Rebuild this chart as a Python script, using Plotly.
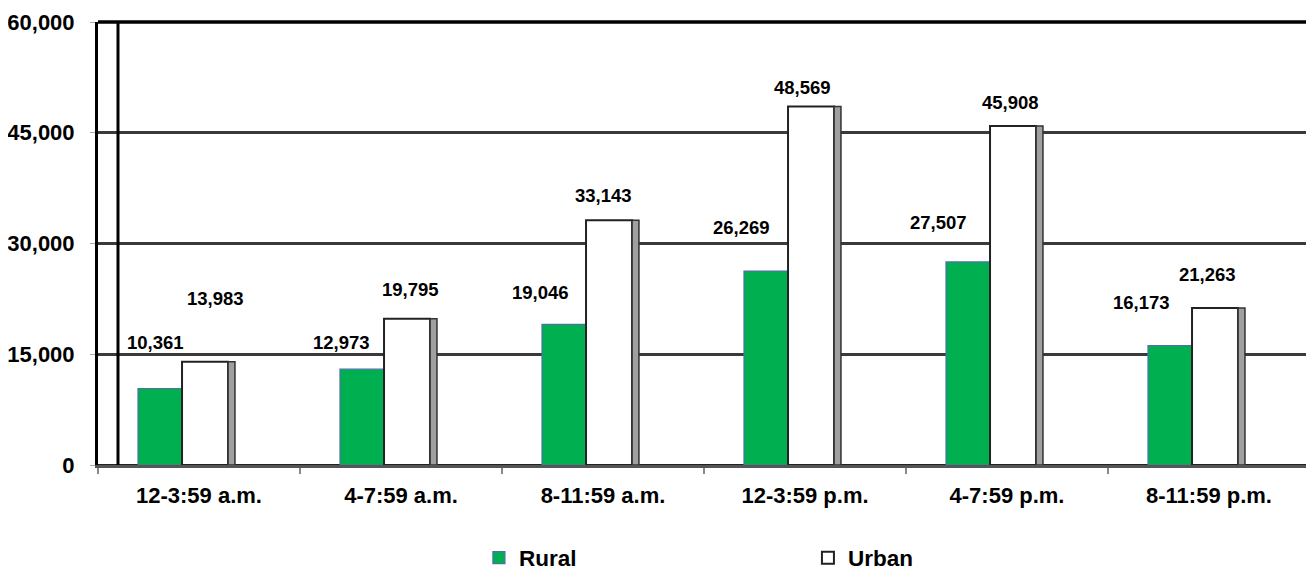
import plotly.graph_objects as go

categories = ["12-3:59 a.m.", "4-7:59 a.m.", "8-11:59 a.m.", "12-3:59 p.m.", "4-7:59 p.m.", "8-11:59 p.m."]
rural = [10361, 12973, 19046, 26269, 27507, 16173]
urban = [13983, 19795, 33143, 48569, 45908, 21263]
y_ticks = [0, 15000, 30000, 45000, 60000]

# label pixel offsets from the category centre / bar top (style)
rural_label_dx = [-44, -60, -63, -64, -69, -68]
rural_label_dy = [46, 27, 32, 44, 39, 43]
urban_label_dx = [16, 9, 0, -3, 3, -2]
urban_label_dy = [63, 29, 25, 19, 24, 34]

FONT = "Liberation Sans, Arial, sans-serif"
GREEN = "#00B050"

fig = go.Figure()
fig.add_trace(go.Bar(
    x=categories, y=rural, name="Rural",
    marker=dict(color=GREEN, line=dict(color="#4F6FA8", width=1.2)),
    width=0.218, offset=-0.302,
))
fig.add_trace(go.Bar(
    x=categories, y=urban, name="Urban",
    marker=dict(color="white", line=dict(color="#222222", width=2)),
    width=0.228, offset=-0.084,
))
# depth side of urban bars
fig.add_trace(go.Bar(
    x=categories, y=urban, name="Urban depth", showlegend=False,
    marker=dict(color="#A0A0A0", line=dict(color="#333333", width=1.5)),
    width=0.034, offset=0.144, hoverinfo="skip",
))

annotations = []
for i, c in enumerate(categories):
    annotations.append(dict(
        x=c, y=rural[i], xref="x", yref="y",
        text=f"{rural[i]:,}", showarrow=False, yanchor="middle", xanchor="center",
        xshift=rural_label_dx[i], yshift=rural_label_dy[i],
        font=dict(family=FONT, size=18.5, color="black", weight="bold"),
    ))
    annotations.append(dict(
        x=c, y=urban[i], xref="x", yref="y",
        text=f"{urban[i]:,}", showarrow=False, yanchor="middle", xanchor="center",
        xshift=urban_label_dx[i], yshift=urban_label_dy[i],
        font=dict(family=FONT, size=18.5, color="black", weight="bold"),
    ))

fig.update_layout(
    width=1314, height=574,
    margin=dict(l=90, r=12, t=14, b=117, autoexpand=False),
    plot_bgcolor="white", paper_bgcolor="white",
    barmode="overlay",
    annotations=annotations,
    font=dict(family=FONT, size=22, color="black", weight="bold"),
    legend=dict(
        orientation="h", x=0.3143, xanchor="left", y=-0.21, yanchor="middle",
        entrywidth=284, entrywidthmode="pixels", itemwidth=30,
        font=dict(family=FONT, size=22.5, color="black", weight="bold"),
        itemclick=False, itemdoubleclick=False,
    ),
    shapes=[dict(
        type="line", xref="paper", yref="paper",
        x0=0.0165, x1=0.0165, y0=0, y1=1,
        line=dict(color="black", width=3), layer="above",
    )],
)
fig.update_xaxes(
    type="category",
    range=[-0.5, 5.5],
    showline=True, linecolor="#555555", linewidth=3, mirror=False,
    ticks="outside", tickson="boundaries", ticklen=6, tickcolor="#888888", tickwidth=2,
    ticklabelstandoff=9,
    tickfont=dict(family=FONT, size=22, color="black", weight="bold"),
    showgrid=False,
)
fig.update_yaxes(
    range=[0, 60000], tickvals=y_ticks, tickformat=",",
    showline=True, linecolor="black", linewidth=3, mirror=True,
    ticks="outside", ticklen=5, tickcolor="#AAAAAA", tickwidth=1,
    ticklabelstandoff=11,
    showgrid=True, gridcolor="#3A3A3A", gridwidth=2.5,
    zeroline=True, zerolinecolor="#222222", zerolinewidth=2,
    tickfont=dict(family=FONT, size=22, color="black", weight="bold"),
)
fig.add_shape(type="line", xref="paper", yref="paper", x0=0, x1=1, y0=1, y1=1,
              line=dict(color="black", width=3.5), layer="above")
fig.add_shape(type="line", xref="paper", yref="paper", x0=1, x1=1, y0=0, y1=1,
              line=dict(color="black", width=3), layer="above")

fig.write_html("out.html")
